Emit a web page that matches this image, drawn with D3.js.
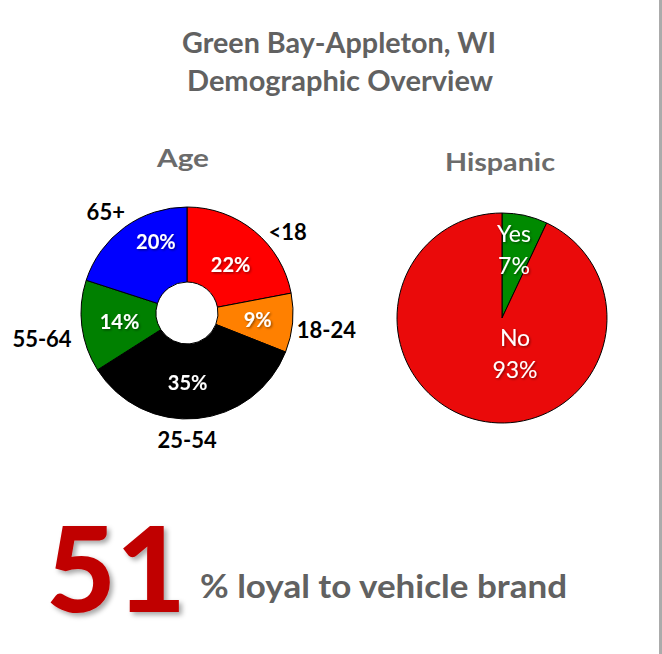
<!DOCTYPE html>
<html>
<head>
<meta charset="utf-8">
<script src="https://cdn.jsdelivr.net/npm/d3@7"></script>
<style>
  body { margin: 0; background: #fff; }
  svg { display: block; }
</style>
</head>
<body>
<div id="chart"></div>
<script>
// data
var ageLabels = ["<18", "18-24", "25-54", "55-64", "65+"];
var ageValues = [22, 9, 35, 14, 20];
var ageColors = ["#ff0000", "#ff8000", "#000000", "#008000", "#0000ff"];

var hispLabels = ["Yes", "No"];
var hispValues = [7, 93];
var hispColors = ["#008a00", "#ea0a0a"];

var loyalValue = 51;
var loyalText = "% loyal to vehicle brand";

var width = 662, height = 654;
var font = "Lato, 'Open Sans', sans-serif";

var svg = d3.select("#chart").append("svg")
  .attr("width", width)
  .attr("height", height);

var defs = svg.append("defs");
defs.append("filter").attr("id", "shadow")
  .attr("x", "-20%").attr("y", "-20%").attr("width", "140%").attr("height", "140%")
  .append("feDropShadow")
  .attr("dx", 1.2).attr("dy", 1.2).attr("stdDeviation", 0.8)
  .attr("flood-color", "#000").attr("flood-opacity", 0.45);
defs.append("filter").attr("id", "bigshadow")
  .attr("x", "-20%").attr("y", "-20%").attr("width", "140%").attr("height", "140%")
  .append("feDropShadow")
  .attr("dx", 3).attr("dy", 3).attr("stdDeviation", 2.5)
  .attr("flood-color", "#000").attr("flood-opacity", 0.35);

// right border
svg.append("rect").attr("x", 659).attr("y", 0).attr("width", 3).attr("height", height)
  .attr("fill", "#ababab");

// title
var title = svg.append("text")
  .attr("text-anchor", "middle")
  .attr("font-family", font)
  .attr("font-weight", "bold")
  .attr("font-size", 28)
  .attr("fill", "#616161");
title.append("tspan").attr("x", 339).attr("y", 53).attr("textLength", 314).attr("lengthAdjust", "spacingAndGlyphs").text("Green Bay-Appleton, WI");
title.append("tspan").attr("x", 340).attr("y", 91).attr("textLength", 306).attr("lengthAdjust", "spacingAndGlyphs").text("Demographic Overview");

// sub titles
svg.append("text").attr("x", 183).attr("y", 167)
  .attr("text-anchor", "middle").attr("font-family", font).attr("font-weight", "bold")
  .attr("font-size", 24).attr("fill", "#6b6b6b")
  .attr("textLength", 52).attr("lengthAdjust", "spacingAndGlyphs").text("Age");
svg.append("text").attr("x", 500).attr("y", 171)
  .attr("text-anchor", "middle").attr("font-family", font).attr("font-weight", "bold")
  .attr("font-size", 25).attr("fill", "#6b6b6b")
  .attr("textLength", 110).attr("lengthAdjust", "spacingAndGlyphs").text("Hispanic");

var pie = d3.pie().sort(null).value(function(d) { return d; });

// age donut
var ageR = 106, ageInner = 31;
var ageG = svg.append("g").attr("transform", "translate(187,313)");
var ageArc = d3.arc().innerRadius(ageInner).outerRadius(ageR);
var ageLabelArc = d3.arc().innerRadius(70).outerRadius(70);
var ageArcs = pie(ageValues);

ageG.selectAll("path.age")
  .data(ageArcs)
  .enter().append("path")
  .attr("class", "age")
  .attr("d", ageArc)
  .attr("fill", function(d, i) { return ageColors[i]; })
  .attr("stroke", "#000")
  .attr("stroke-width", 1);

var pctNudge = [[-1, 6], [1, 0], [-6, 0], [2, 0], [10, -15]];
ageG.selectAll("text.pct")
  .data(ageArcs)
  .enter().append("text")
  .attr("class", "pct")
  .attr("transform", function(d, i) {
    var c = ageLabelArc.centroid(d);
    return "translate(" + (c[0] + pctNudge[i][0]) + "," + (c[1] + pctNudge[i][1]) + ")";
  })
  .attr("text-anchor", "middle")
  .attr("dy", "0.36em")
  .attr("font-family", font)
  .attr("font-weight", "bold")
  .attr("font-size", 20)
  .attr("fill", "#fff")
  .attr("filter", "url(#shadow)")
  .text(function(d) { return d.value + "%"; });

// outside category labels
var outerLabelArc = d3.arc().innerRadius(128).outerRadius(128);
var labelNudge = [[19, 18], [12, 5], [-12, 0], [-18, 10], [-6, 3]];
ageG.selectAll("text.cat")
  .data(ageArcs)
  .enter().append("text")
  .attr("class", "cat")
  .attr("transform", function(d, i) {
    var c = outerLabelArc.centroid(d);
    return "translate(" + (c[0] + labelNudge[i][0]) + "," + (c[1] + labelNudge[i][1]) + ")";
  })
  .attr("text-anchor", "middle")
  .attr("dy", "0.36em")
  .attr("font-family", font)
  .attr("font-weight", "bold")
  .attr("font-size", 22)
  .attr("fill", "#000")
  .text(function(d, i) { return ageLabels[i]; });

// hispanic pie
var hR = 105;
var hG = svg.append("g").attr("transform", "translate(502,318)");
var hArc = d3.arc().innerRadius(0).outerRadius(hR);
var hArcs = pie(hispValues);

hG.selectAll("path.hisp")
  .data(hArcs)
  .enter().append("path")
  .attr("class", "hisp")
  .attr("d", hArc)
  .attr("fill", function(d, i) { return hispColors[i]; })
  .attr("stroke", "#000")
  .attr("stroke-width", 1);

var hLabelPos = [[12, -76], [13, 28]];
hArcs.forEach(function(d, i) {
  var t = hG.append("text")
    .attr("text-anchor", "middle")
    .attr("font-family", font)
    .attr("font-size", 23)
    .attr("fill", "#fff")
    .attr("filter", "url(#shadow)");
  t.append("tspan").attr("x", hLabelPos[i][0]).attr("y", hLabelPos[i][1]).text(hispLabels[i]);
  t.append("tspan").attr("x", hLabelPos[i][0]).attr("y", hLabelPos[i][1] + 32).text(d.value + "%");
});

// bottom big number
svg.append("text")
  .attr("x", 46).attr("y", 612)
  .attr("font-family", font)
  .attr("font-weight", "900")
  .attr("font-size", 119)
  .attr("fill", "#c00000")
  .attr("filter", "url(#bigshadow)")
  .attr("textLength", 140).attr("lengthAdjust", "spacingAndGlyphs")
  .text(loyalValue);

svg.append("text")
  .attr("x", 200).attr("y", 598)
  .attr("font-family", font)
  .attr("font-weight", "bold")
  .attr("font-size", 32)
  .attr("fill", "#616161")
  .attr("textLength", 367).attr("lengthAdjust", "spacingAndGlyphs")
  .text(loyalText);
</script>
</body>
</html>
